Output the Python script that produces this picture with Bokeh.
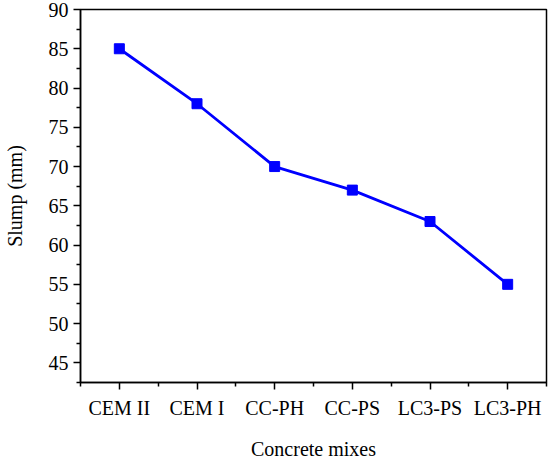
from bokeh.plotting import figure
from bokeh.models import FixedTicker, SingleIntervalTicker, Range1d, ColumnDataSource
from bokeh.embed import file_html
from bokeh.resources import INLINE

mixes = ["CEM II", "CEM I", "CC-PH", "CC-PS", "LC3-PS", "LC3-PH"]
slump = [85, 78, 70, 67, 63, 55]
y_ticks = [45, 50, 55, 60, 65, 70, 75, 80, 85, 90]

xs = list(range(1, len(mixes) + 1))
src = ColumnDataSource(dict(x=xs, y=slump))

FONT = "Liberation Serif"
p = figure(frame_width=466, frame_height=373, output_backend="svg", toolbar_location=None,
           min_border_left=69, min_border_right=5, min_border_top=9, min_border_bottom=64,
           x_range=Range1d(0.5, len(mixes) + 0.5), y_range=Range1d(42.5, 90))

p.line("x", "y", source=src, line_color="#0000FF", line_width=2.8)
p.scatter("x", "y", source=src, marker="square", size=10, fill_color="#0000FF", line_color="#0000FF")

p.xgrid.visible = False
p.ygrid.visible = False
p.outline_line_color = "black"
p.outline_line_width = 1.5
p.outline_line_alpha = 1

p.xaxis.ticker = FixedTicker(ticks=xs, minor_ticks=[i + 0.5 for i in range(0, len(mixes) + 1)])
p.xaxis.major_label_overrides = {i + 1: m for i, m in enumerate(mixes)}
p.yaxis.ticker = FixedTicker(ticks=y_ticks, minor_ticks=[t - 2.5 for t in y_ticks])

for ax in (p.xaxis[0], p.yaxis[0]):
    ax.axis_line_color = "black"
    ax.axis_line_width = 1.5
    ax.major_tick_line_color = "black"
    ax.major_tick_line_width = 1.5
    ax.minor_tick_line_color = "black"
    ax.minor_tick_line_width = 1.5
    ax.major_tick_in = 0
    ax.major_tick_out = 7
    ax.minor_tick_in = 0
    ax.minor_tick_out = 4
    ax.major_label_text_font = FONT
    ax.major_label_text_font_size = "20px"
    ax.major_label_text_color = "black"
    ax.axis_label_text_font = FONT
    ax.axis_label_text_font_size = "20px"
    ax.axis_label_text_font_style = "normal"
    ax.axis_label_text_color = "black"
    ax.major_label_standoff = 5

p.xaxis.major_label_standoff = 7
p.xaxis.axis_label = "Concrete mixes"
p.yaxis.axis_label = "Slump (mm)"
p.xaxis.axis_label_standoff = 16
p.yaxis.axis_label_standoff = 20

open("out.html", "w").write(file_html(p, INLINE))
